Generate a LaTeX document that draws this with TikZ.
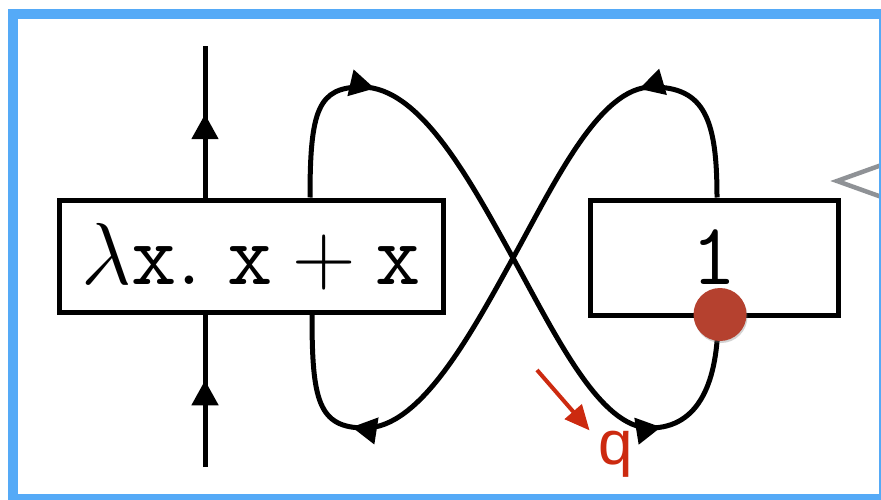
\RequirePackage{fix-cm}
\documentclass[tikz,border=0pt]{standalone}
\usepackage{fontspec}
\usetikzlibrary{arrows.meta,decorations.markings,shadows}
\definecolor{moldura}{HTML}{55AAF7}
\definecolor{rubi}{HTML}{B5412F}
\definecolor{laranja}{HTML}{CC2A10}
\definecolor{cinza}{HTML}{8F9296}
\newfontfamily\rotulo{Liberation Sans}

\begin{document}
\begin{tikzpicture}[x=1pt, y=-1pt,
  caixa/.style={draw, line width=5pt, fill=white, inner sep=0pt, font=\fontsize{88}{90}\selectfont},
  fio/.style={line width=5pt},
  marca/.style={postaction={decorate}, decoration={markings, mark=at position #1 with {\arrow{Triangle[length=25pt, width=26pt]}}}},
  marcas/.style 2 args={postaction={decorate}, decoration={markings,
    mark=at position #1 with {\arrow{Triangle[length=25pt, width=26pt]}},
    mark=at position #2 with {\arrow{Triangle[length=25pt, width=26pt]}}}},
  ponto/.style={circle, fill=rubi, minimum size=53pt, inner sep=0pt, drop shadow={opacity=0.35, shadow xshift=1pt, shadow yshift=-2pt}},
  seta/.style={draw=laranja, line width=4pt, -{Triangle[length=25pt, width=22pt]}}]
\useasboundingbox (0,0) rectangle (881,500);
\clip (0,0) rectangle (881,500);
\node[caixa, minimum width=383.5pt, minimum height=112.5pt] (lam) at (251.25,256.25) {$\lambda\mathtt{x}.\ \mathtt{x}+\mathtt{x}$};
\node[caixa, minimum width=248pt, minimum height=115pt] (um) at (714,257.5) {$\mathtt{1}$};
\coordinate (lamN) at ([xshift=58.75pt]lam.north);
\coordinate (lamS) at ([xshift=60.75pt]lam.south);
\coordinate (umN) at ([xshift=3pt]um.north);
\coordinate (umS) at ([xshift=4pt]um.south);
\coordinate (baixo) at (205,467);
\coordinate (cima) at (205,46);
% fio vertical
\draw[fio, marca=0.57] (baixo) -- (baixo |- lam.south);
\draw[fio, marca=0.55] (baixo |- lam.north) -- (cima);
% o oito
\draw[fio, marcas={0.205}{0.82}] (lamN) .. controls (310,110) and (318,87) .. (362,87)
  .. controls (420,87) and (470,180) .. (513,258)
  .. controls (556,336) and (600,428) .. (650,428)
  .. controls (700,428) and (718,380) .. (umS);
\draw[fio, marcas={0.214}{0.827}] (umN) .. controls (717,120) and (705,87) .. (652,87)
  .. controls (600,87) and (556,180) .. (513,258)
  .. controls (470,336) and (420,428) .. (365,428)
  .. controls (318,428) and (312,400) .. (lamS);
% ponta do balao
\draw[cinza, line width=4.5pt] (890,162) -- (837,181) -- (890,200);
\draw[moldura, line width=10pt] (13,14) rectangle (884,499);
\node[ponto] (gota) at ([xshift=6pt, yshift=3pt]um.south) {};
\node[font=\rotulo\fontsize{62}{62}\selectfont, text=laranja, inner sep=0pt, anchor=base] (q) at (616,464) {q};
\coordinate (qcauda) at (537,370);
\draw[seta] (qcauda) -- ([xshift=-9pt]q.north west);
\end{tikzpicture}
\end{document}
